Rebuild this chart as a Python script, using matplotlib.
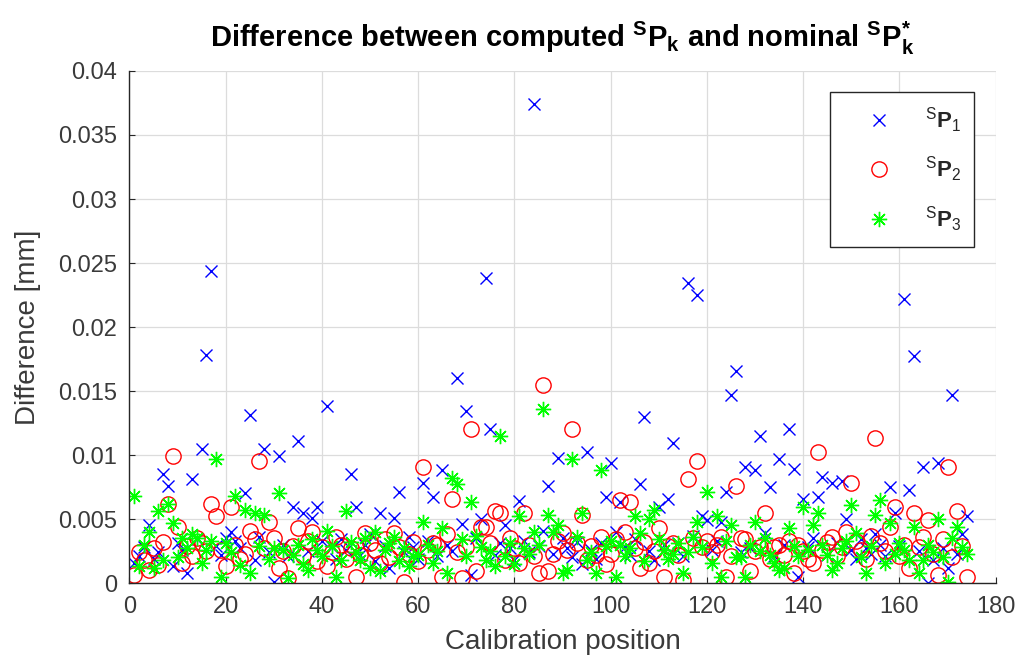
import matplotlib
matplotlib.use('Agg')
import matplotlib.pyplot as plt
import numpy as np

plt.rcParams['font.family'] = ['Liberation Sans', 'DejaVu Sans']
plt.rcParams['mathtext.fontset'] = 'custom'
plt.rcParams['mathtext.rm'] = 'Liberation Sans'
plt.rcParams['mathtext.it'] = 'Liberation Sans:italic'
plt.rcParams['mathtext.bf'] = 'Liberation Sans:bold'

# difference per calibration position [mm]
p1 = [0.0016, 0.0021, 0.0028, 0.0045, 0.0019, 0.0024, 0.0085, 0.0076, 0.0013, 0.0031,
      0.0026, 0.0008, 0.0081, 0.0034, 0.0105, 0.0178, 0.0244, 0.0029, 0.0022, 0.0035,
      0.0040, 0.0033, 0.0027, 0.0070, 0.0131, 0.0018, 0.0036, 0.0105, 0.0024, 0.0001,
      0.0099, 0.0030, 0.0021, 0.0059, 0.0111, 0.0055, 0.0025, 0.0051, 0.0059, 0.0033,
      0.0138, 0.0028, 0.0019, 0.0034, 0.0026, 0.0085, 0.0059, 0.0022, 0.0030, 0.0038,
      0.0017, 0.0055, 0.0029, 0.0012, 0.0051, 0.0071, 0.0024, 0.0036, 0.0028, 0.0019,
      0.0078, 0.0033, 0.0067, 0.0021, 0.0088, 0.0030, 0.0025, 0.0160, 0.0046, 0.0134,
      0.0006, 0.0035, 0.0050, 0.0238, 0.0120, 0.0022, 0.0031, 0.0045, 0.0027, 0.0018,
      0.0064, 0.0033, 0.0024, 0.0374, 0.0029, 0.0041, 0.0076, 0.0023, 0.0098, 0.0035,
      0.0027, 0.0020, 0.0032, 0.0015, 0.0102, 0.0026, 0.0019, 0.0031, 0.0067, 0.0094,
      0.0040, 0.0063, 0.0028, 0.0022, 0.0034, 0.0077, 0.0130, 0.0025, 0.0018, 0.0059,
      0.0030, 0.0066, 0.0109, 0.0031, 0.0021, 0.0234, 0.0037, 0.0225, 0.0052, 0.0049,
      0.0026, 0.0033, 0.0048, 0.0071, 0.0147, 0.0166, 0.0024, 0.0091, 0.0027, 0.0088,
      0.0115, 0.0039, 0.0075, 0.0021, 0.0097, 0.0030, 0.0120, 0.0089, 0.0005, 0.0066,
      0.0028, 0.0035, 0.0067, 0.0083, 0.0022, 0.0078, 0.0031, 0.0080, 0.0050, 0.0026,
      0.0019, 0.0034, 0.0027, 0.0023, 0.0038, 0.0030, 0.0021, 0.0075, 0.0055, 0.0029,
      0.0222, 0.0073, 0.0177, 0.0025, 0.0091, 0.0000, 0.0018, 0.0094, 0.0027, 0.0012,
      0.0147, 0.0023, 0.0038, 0.0052]

p2 = [0.0006, 0.0024, 0.0018, 0.0010, 0.0027, 0.0014, 0.0032, 0.0062, 0.0099, 0.0044,
      0.0016, 0.0029, 0.0021, 0.0035, 0.0031, 0.0025, 0.0062, 0.0052, 0.0026, 0.0013,
      0.0059, 0.0030, 0.0019, 0.0023, 0.0041, 0.0034, 0.0095, 0.0027, 0.0048, 0.0035,
      0.0012, 0.0025, 0.0004, 0.0029, 0.0043, 0.0021, 0.0033, 0.0040, 0.0017, 0.0028,
      0.0013, 0.0024, 0.0036, 0.0030, 0.0019, 0.0027, 0.0005, 0.0022, 0.0039, 0.0031,
      0.0026, 0.0016, 0.0034, 0.0020, 0.0039, 0.0028, 0.0001, 0.0023, 0.0032, 0.0017,
      0.0091, 0.0026, 0.0031, 0.0030, 0.0005, 0.0038, 0.0066, 0.0024, 0.0004, 0.0028,
      0.0120, 0.0009, 0.0044, 0.0044, 0.0031, 0.0056, 0.0055, 0.0018, 0.0035, 0.0027,
      0.0016, 0.0055, 0.0030, 0.0021, 0.0008, 0.0155, 0.0009, 0.0023, 0.0033, 0.0039,
      0.0026, 0.0120, 0.0031, 0.0053, 0.0018, 0.0029, 0.0022, 0.0036, 0.0015, 0.0023,
      0.0034, 0.0065, 0.0040, 0.0063, 0.0027, 0.0012, 0.0032, 0.0016, 0.0025, 0.0043,
      0.0005, 0.0029, 0.0031, 0.0022, 0.0002, 0.0081, 0.0035, 0.0095, 0.0028, 0.0033,
      0.0024, 0.0030, 0.0036, 0.0005, 0.0021, 0.0076, 0.0035, 0.0034, 0.0009, 0.0025,
      0.0028, 0.0055, 0.0019, 0.0028, 0.0030, 0.0022, 0.0033, 0.0008, 0.0030, 0.0025,
      0.0019, 0.0016, 0.0102, 0.0026, 0.0032, 0.0036, 0.0021, 0.0028, 0.0040, 0.0078,
      0.0033, 0.0026, 0.0019, 0.0037, 0.0113, 0.0031, 0.0025, 0.0044, 0.0059, 0.0021,
      0.0030, 0.0012, 0.0055, 0.0028, 0.0036, 0.0049, 0.0023, 0.0006, 0.0034, 0.0091,
      0.0020, 0.0056, 0.0029, 0.0005]

p3 = [0.0068, 0.0013, 0.0030, 0.0040, 0.0012, 0.0056, 0.0018, 0.0062, 0.0047, 0.0020,
      0.0035, 0.0027, 0.0038, 0.0035, 0.0016, 0.0026, 0.0033, 0.0097, 0.0005, 0.0031,
      0.0024, 0.0068, 0.0014, 0.0057, 0.0008, 0.0055, 0.0029, 0.0053, 0.0019, 0.0027,
      0.0070, 0.0026, 0.0004, 0.0022, 0.0030, 0.0015, 0.0010, 0.0034, 0.0026, 0.0021,
      0.0041, 0.0029, 0.0005, 0.0018, 0.0056, 0.0032, 0.0024, 0.0018, 0.0035, 0.0012,
      0.0040, 0.0009, 0.0026, 0.0031, 0.0036, 0.0017, 0.0027, 0.0013, 0.0021, 0.0022,
      0.0048, 0.0030, 0.0016, 0.0025, 0.0043, 0.0008, 0.0082, 0.0077, 0.0034, 0.0021,
      0.0063, 0.0037, 0.0028, 0.0018, 0.0025, 0.0013, 0.0115, 0.0021, 0.0031, 0.0015,
      0.0052, 0.0027, 0.0023, 0.0040, 0.0030, 0.0136, 0.0053, 0.0040, 0.0045, 0.0008,
      0.0010, 0.0097, 0.0036, 0.0055, 0.0018, 0.0024, 0.0008, 0.0088, 0.0029, 0.0033,
      0.0005, 0.0030, 0.0021, 0.0027, 0.0052, 0.0039, 0.0017, 0.0050, 0.0057, 0.0034,
      0.0026, 0.0019, 0.0023, 0.0031, 0.0008, 0.0024, 0.0036, 0.0048, 0.0028, 0.0071,
      0.0016, 0.0052, 0.0005, 0.0033, 0.0045, 0.0020, 0.0020, 0.0005, 0.0030, 0.0048,
      0.0025, 0.0035, 0.0022, 0.0016, 0.0010, 0.0012, 0.0043, 0.0029, 0.0021, 0.0059,
      0.0026, 0.0045, 0.0055, 0.0030, 0.0022, 0.0010, 0.0016, 0.0027, 0.0033, 0.0061,
      0.0039, 0.0020, 0.0008, 0.0029, 0.0053, 0.0065, 0.0016, 0.0047, 0.0023, 0.0031,
      0.0026, 0.0018, 0.0044, 0.0008, 0.0018, 0.0030, 0.0024, 0.0050, 0.0020, 0.0001,
      0.0035, 0.0044, 0.0028, 0.0023]

pos = np.arange(1, len(p1) + 1)

labels = [r'$^{\mathrm{S}}\mathbf{P}_{\mathrm{1}}$',
          r'$^{\mathrm{S}}\mathbf{P}_{\mathrm{2}}$',
          r'$^{\mathrm{S}}\mathbf{P}_{\mathrm{3}}$']

fig = plt.figure(figsize=(10.21, 6.66), dpi=100)
ax = fig.add_axes([0.1268, 0.1246, 0.8484, 0.7688])

ax.plot(pos, p1, 'x', color=(0, 0, 1), ms=8.5, mew=1.0, label=labels[0])
ax.plot(pos, p2, 'o', color=(1, 0, 0), mfc='none', ms=11, mew=1.0, label=labels[1])
ax.plot(pos, p3, ls='none', marker=(8, 2, 0), color=(0, 1, 0), ms=11, mew=1.0,
        label=labels[2])

ax.set_xlim(0, 180)
ax.set_ylim(0, 0.04)
ax.set_xticks(np.arange(0, 181, 20))
ax.set_yticks(np.arange(0, 0.0401, 0.005))
ax.set_yticklabels(['0', '0.005', '0.01', '0.015', '0.02', '0.025', '0.03', '0.035', '0.04'])

ax.grid(True, color='#dcdcdc', lw=0.9)
ax.set_axisbelow(True)
for s in ['top', 'right']:
    ax.spines[s].set_visible(False)
for s in ['left', 'bottom']:
    ax.spines[s].set_color('#262626')
    ax.spines[s].set_linewidth(1.0)
ax.tick_params(direction='in', length=4, width=0.8, colors='#262626',
               labelsize=17, labelcolor='#3a3a3a', pad=9)

ax.set_xlabel('Calibration position', fontsize=20, color='#3a3a3a', labelpad=8)
ax.set_ylabel('Difference [mm]', fontsize=20, color='#3a3a3a', labelpad=12)
ax.set_title(r'Difference between computed $^{\mathbf{S}}\mathbf{P}_{\mathbf{k}}$'
             r' and nominal $^{\mathbf{S}}\mathbf{P}^{\mathbf{*}}_{\mathbf{k}}$',
             fontsize=21, fontweight='bold', pad=17)

leg = ax.legend(loc='upper right', bbox_to_anchor=(0.975, 0.959), borderaxespad=0,
                fontsize=16, labelspacing=0.9, handletextpad=0.45, borderpad=0.6,
                handlelength=3.2, fancybox=False, framealpha=1)
leg.get_frame().set_edgecolor('#262626')
leg.get_frame().set_linewidth(1.0)
for t in leg.get_texts():
    t.set_color('#262626')

fig.savefig('out.png', dpi=100)
